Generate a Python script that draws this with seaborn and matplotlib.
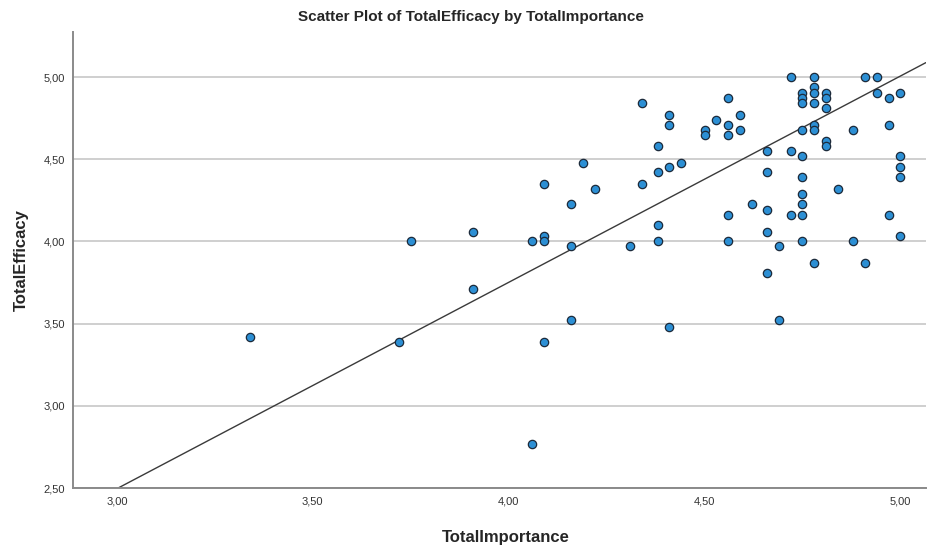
import matplotlib

matplotlib.use("Agg")
import matplotlib.pyplot as plt
import pandas as pd
import seaborn as sns

# TotalImportance / TotalEfficacy pairs
total_importance = [
    4.19, 4.09, 4.22, 4.16, 3.91, 3.75, 4.06, 4.09, 4.09, 4.16,
    3.91, 4.16, 3.72, 4.09, 4.06, 3.34,
    4.72, 4.78, 4.91, 4.94, 4.78, 4.78, 4.75, 4.75, 4.75, 4.78,
    4.81, 4.81, 4.81, 4.94, 4.97, 5.00, 4.34, 4.56, 4.41, 4.41,
    4.53, 4.56, 4.59, 4.50, 4.50, 4.56, 4.59, 4.38, 4.75, 4.78,
    4.78, 4.88, 4.97, 4.81, 4.81, 4.66, 4.72, 4.75, 5.00, 5.00,
    5.00, 4.44, 4.41, 4.38, 4.34, 4.66, 4.75, 4.84, 4.75, 4.75,
    4.62, 4.66, 4.72, 4.75, 4.56, 4.97, 4.38, 4.66, 5.00, 4.31,
    4.38, 4.56, 4.69, 4.75, 4.88, 4.78, 4.91, 4.66, 4.41, 4.69,
]
total_efficacy = [
    4.48, 4.35, 4.32, 4.23, 4.06, 4.00, 4.00, 4.03, 4.00, 3.97,
    3.71, 3.52, 3.39, 3.39, 2.77, 3.42,
    5.00, 5.00, 5.00, 5.00, 4.94, 4.90, 4.90, 4.87, 4.84, 4.84,
    4.90, 4.87, 4.81, 4.90, 4.87, 4.90, 4.84, 4.87, 4.77, 4.71,
    4.74, 4.71, 4.77, 4.68, 4.65, 4.65, 4.68, 4.58, 4.68, 4.71,
    4.68, 4.68, 4.71, 4.61, 4.58, 4.55, 4.55, 4.52, 4.52, 4.45,
    4.39, 4.48, 4.45, 4.42, 4.35, 4.42, 4.39, 4.32, 4.29, 4.23,
    4.23, 4.19, 4.16, 4.16, 4.16, 4.16, 4.10, 4.06, 4.03, 3.97,
    4.00, 4.00, 3.97, 4.00, 4.00, 3.87, 3.87, 3.81, 3.48, 3.52,
]

# fit line drawn by the original chart
fit_slope = 1.255
fit_intercept = -1.269

x_ticks = [3.0, 3.5, 4.0, 4.5, 5.0]
x_tick_labels = ["3,00", "3,50", "4,00", "4,50", "5,00"]
y_ticks = [2.5, 3.0, 3.5, 4.0, 4.5, 5.0]
y_tick_labels = ["2,50", "3,00", "3,50", "4,00", "4,50", "5,00"]

frame = pd.DataFrame({"TotalImportance": total_importance, "TotalEfficacy": total_efficacy})

sns.set_theme(style="white")
plt.rcParams["font.family"] = ["Liberation Sans", "DejaVu Sans"]

fig = plt.figure(figsize=(9.28, 5.46), dpi=100)
ax = fig.add_axes([0.0787, 0.1062, 0.919, 0.8352])

ax.yaxis.grid(True, color="#cfcfcf", linewidth=1.4)
ax.set_axisbelow(True)

sns.scatterplot(
    data=frame,
    x="TotalImportance",
    y="TotalEfficacy",
    ax=ax,
    s=36,
    color="#2c8fd4",
    edgecolor="#1c2a3a",
    linewidth=0.9,
    zorder=3,
)
ax.axline((3.0, fit_intercept + fit_slope * 3.0), slope=fit_slope,
          color="#3a3a3a", linewidth=1.0, zorder=2)

ax.set_xlim(2.888, 5.065)
ax.set_ylim(2.5, 5.274)
ax.set_xticks(x_ticks, x_tick_labels, fontsize=8, color="#333333")
ax.set_yticks(y_ticks, y_tick_labels, fontsize=8, color="#333333")
ax.tick_params(length=0, pad=6)

for side in ("top", "right"):
    ax.spines[side].set_visible(False)
for side in ("left", "bottom"):
    ax.spines[side].set_color("#8a8a8a")
    ax.spines[side].set_linewidth(1.4)

ax.set_xlabel("TotalImportance", fontsize=12, fontweight="bold")
ax.xaxis.set_label_coords(0.508, -0.093)
ax.set_ylabel("TotalEfficacy", fontsize=12, fontweight="bold", labelpad=10)
fig.text(0.507, 0.968, "Scatter Plot of TotalEfficacy by TotalImportance",
         fontsize=11, fontweight="bold", ha="center", va="center")

fig.savefig("out.png", dpi=100)
plt.close(fig)
